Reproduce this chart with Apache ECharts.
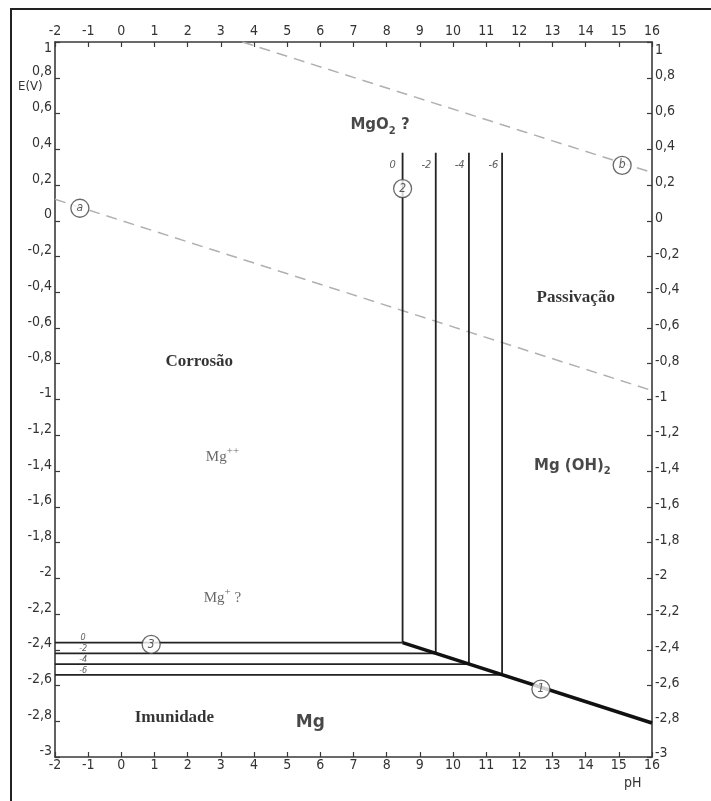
<!DOCTYPE html>
<html>
<head>
<meta charset="utf-8">
<script src="https://cdn.jsdelivr.net/npm/echarts@6/dist/echarts.min.js"></script>
<style>
  html, body { margin: 0; padding: 0; background: #fff; }
  #main { width: 711px; height: 801px; }
</style>
</head>
<body>
<div id="main"></div>
<script>
// Diagrama de Pourbaix do magnesio (E x pH)
var dashedA = [[-2, 0.12], [16, -0.95]];
var dashedB = [[3.65, 1.0], [16, 0.27]];

// linhas (2): Mg++ / Mg(OH)2 para log[Mg++] = 0, -2, -4, -6
var logConc = ['0', '-2', '-4', '-6'];
var verticalPH = [8.48, 9.48, 10.48, 11.48];
var verticalTop = [0.38, 0.38, 0.38, 0.38];
// linhas (3): Mg / Mg++
var junctionE = [-2.36, -2.42, -2.48, -2.54];
// linha (1): Mg / Mg(OH)2
var line1 = [[8.48, -2.36], [16, -2.81]];

var circleNames = ['a', 'b', '2', '3', '1'];
var circlePH = [-1.25, 15.1, 8.48, 0.9, 12.65];
var circleE = [0.07, 0.31, 0.18, -2.37, -2.62];

var regionText = ['{sb|MgO}{sbsub|2}{sb| ?}', '{tb|Passivação}', '{tb|Corrosão}', '{t|Mg}{sup|++}',
                  '{sb|Mg (OH)}{sbsub|2}', '{t|Mg}{sup|+}{t| ?}', '{tb|Imunidade}', '{sbig|Mg}'];
var regionPH = [7.8, 13.7, 2.35, 3.05, 13.6, 3.05, 1.6, 5.7];
var regionE = [0.535, -0.43, -0.79, -1.32, -1.37, -2.11, -2.78, -2.81];

var vLabelPH = [8.18, 9.2, 10.2, 11.22];
var vLabelE = 0.31;
var hLabelPH = -1.15;

var chart = echarts.init(document.getElementById('main'));

function fmt(v) {
    var s = (Math.round(v * 10) / 10).toString();
    return s.replace('.', ',');
}

var axisCol = '#3a3a3a';
var labelFont = '"DejaVu Sans Condensed", "Liberation Sans", sans-serif';

function xAx(pos) {
    return {
        type: 'value', position: pos, min: -2, max: 16, interval: 1,
        axisLine: { show: true, onZero: false, lineStyle: { color: axisCol, width: 1.6 } },
        axisTick: { show: true, inside: true, length: 5, lineStyle: { color: axisCol, width: 1.2 } },
        axisLabel: { color: '#333', fontFamily: labelFont, fontSize: 14, margin: pos == 'top' ? 4 : 1 },
        splitLine: { show: false }
    };
}
function yAx(pos) {
    var left = pos == 'left';
    return {
        type: 'value', position: pos, min: -3, max: 1, interval: 0.2,
        axisLine: { show: true, onZero: false, lineStyle: { color: axisCol, width: 1.6 } },
        axisTick: { show: true, inside: true, length: 5, lineStyle: { color: axisCol, width: 1.2 } },
        axisLabel: {
            color: '#333', fontFamily: labelFont, fontSize: 14, margin: 3,
            formatter: function(v) {
                var s = fmt(v);
                if (Math.abs(v - 1) < 1e-6) return '{top|' + s + '}';
                if (!left && Math.abs(v + 3) < 1e-6) return '{bot|' + s + '}';
                return '{n|' + s + '}';
            },
            rich: {
                n: { padding: left ? [0, 0, 12, 0] : [0, 0, 5, 0] },
                top: { padding: [left ? 12 : 16, 0, 0, 0] },
                bot: { padding: [0, 0, 8, 0] }
            }
        },
        splitLine: { show: false }
    };
}

var series = [];
var lineStyleBlack = { color: '#222', width: 1.8 };

series.push({ type: 'line', data: dashedA, symbol: 'none', silent: true,
    lineStyle: { color: '#b0b0b0', width: 1.5, type: [11, 7] } });
series.push({ type: 'line', data: dashedB, symbol: 'none', silent: true,
    lineStyle: { color: '#b0b0b0', width: 1.5, type: [11, 7] } });

for (var i = 0; i < verticalPH.length; i++) {
    series.push({ type: 'line', symbol: 'none', silent: true, lineStyle: lineStyleBlack,
        data: [[verticalPH[i], verticalTop[i]], [verticalPH[i], junctionE[i]]] });
    series.push({ type: 'line', symbol: 'none', silent: true, lineStyle: lineStyleBlack,
        data: [[-2, junctionE[i]], [verticalPH[i], junctionE[i]]] });
}
series.push({ type: 'line', data: line1, symbol: 'none', silent: true,
    lineStyle: { color: '#111', width: 3.5 } });

// valores de log nas linhas
var concLabels = [];
for (var j = 0; j < logConc.length; j++) {
    concLabels.push({ value: [vLabelPH[j], vLabelE], label: { formatter: logConc[j], fontSize: 11 } });
    concLabels.push({ value: [hLabelPH, junctionE[j] + 0.025], label: { formatter: logConc[j], fontSize: 9 } });
}
series.push({ type: 'scatter', data: concLabels, symbolSize: 1, silent: true, z: 5,
    itemStyle: { color: 'transparent' },
    label: { show: true, position: 'inside', color: '#333', fontStyle: 'italic',
        fontFamily: labelFont } });

// circulos numerados
var circles = [];
for (var k = 0; k < circleNames.length; k++) {
    circles.push({ value: [circlePH[k], circleE[k]], name: circleNames[k] });
}
series.push({ type: 'scatter', data: circles, symbol: 'circle', symbolSize: 18, silent: true, z: 6,
    itemStyle: { color: '#fff', borderColor: '#444', borderWidth: 1.3 },
    label: { show: true, position: 'inside', formatter: '{b}', color: '#333', fontSize: 12,
        fontStyle: 'italic', fontFamily: labelFont } });

// textos das regioes
var texts = [];
for (var m = 0; m < regionText.length; m++) {
    texts.push({ value: [regionPH[m], regionE[m]], label: { formatter: regionText[m] } });
}
var serif = '"Liberation Serif", "DejaVu Serif", serif';
var sans = '"DejaVu Sans", "Liberation Sans", sans-serif';
series.push({ type: 'scatter', data: texts, symbolSize: 1, silent: true, z: 7,
    itemStyle: { color: 'transparent' },
    label: { show: true, position: 'inside',
        rich: {
            sb: { fontFamily: sans, fontWeight: 'bold', fontSize: 15, color: '#1a1a1a', lineHeight: 22, verticalAlign: 'middle' },
            sbig: { fontFamily: sans, fontWeight: 'bold', fontSize: 17, color: '#1a1a1a', lineHeight: 22 },
            sbsub: { fontFamily: sans, fontWeight: 'bold', fontSize: 10, color: '#1a1a1a', lineHeight: 22, verticalAlign: 'bottom' },
            tb: { fontFamily: serif, fontWeight: 'bold', fontSize: 17, color: '#000', lineHeight: 22 },
            t: { fontFamily: serif, fontSize: 15, color: '#444', lineHeight: 22, verticalAlign: 'middle' },
            sup: { fontFamily: serif, fontSize: 11, color: '#444', lineHeight: 22, verticalAlign: 'top' }
        } } });

var option = {
    animation: false,
    backgroundColor: '#fff',
    grid: { left: 55, right: 59, top: 42, bottom: 44 },
    xAxis: [xAx('bottom'), xAx('top')],
    yAxis: [yAx('left'), yAx('right')],
    graphic: [
        { type: 'rect', shape: { x: 11, y: 9, width: 760, height: 860 },
          style: { fill: 'none', stroke: '#222', lineWidth: 2 } },
        { type: 'text', left: 18, top: 80,
          style: { text: 'E(V)', fill: '#333', fontSize: 13, fontFamily: labelFont } },
        { type: 'text', left: 624, top: 776,
          style: { text: 'pH', fill: '#333', fontSize: 14, fontFamily: labelFont } }
    ],
    series: series
};
chart.setOption(option);
</script>
</body>
</html>
